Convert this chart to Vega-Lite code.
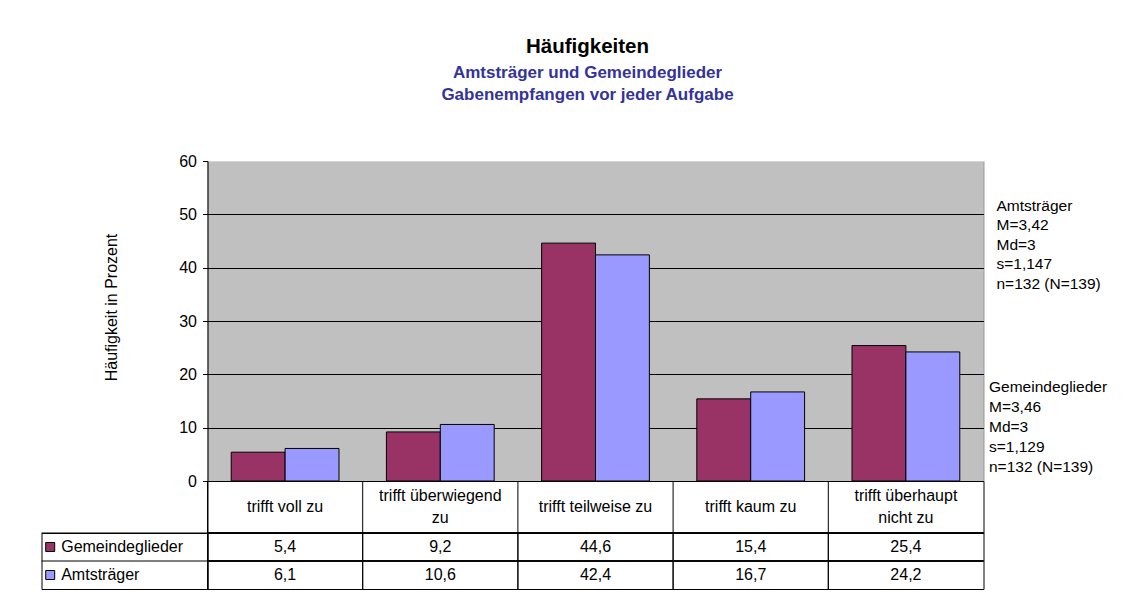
{
  "$schema": "https://vega.github.io/schema/vega-lite/v6.json",
  "background": "white",
  "padding": {"left": 40.5, "top": 36, "right": 5, "bottom": 5},
  "datasets": {
    "freq": [
      {"cat": "trifft voll zu", "series": "Gemeindeglieder", "value": 5.4},
      {"cat": "trifft voll zu", "series": "Amtsträger", "value": 6.1},
      {"cat": "trifft überwiegend zu", "series": "Gemeindeglieder", "value": 9.2},
      {"cat": "trifft überwiegend zu", "series": "Amtsträger", "value": 10.6},
      {"cat": "trifft teilweise zu", "series": "Gemeindeglieder", "value": 44.6},
      {"cat": "trifft teilweise zu", "series": "Amtsträger", "value": 42.4},
      {"cat": "trifft kaum zu", "series": "Gemeindeglieder", "value": 15.4},
      {"cat": "trifft kaum zu", "series": "Amtsträger", "value": 16.7},
      {"cat": "trifft überhaupt nicht zu", "series": "Gemeindeglieder", "value": 25.4},
      {"cat": "trifft überhaupt nicht zu", "series": "Amtsträger", "value": 24.2}
    ],
    "cats": [
      {"cat": "trifft voll zu", "label": "trifft voll zu"},
      {"cat": "trifft überwiegend zu", "label": "trifft überwiegend\nzu"},
      {"cat": "trifft teilweise zu", "label": "trifft teilweise zu"},
      {"cat": "trifft kaum zu", "label": "trifft kaum zu"},
      {"cat": "trifft überhaupt nicht zu", "label": "trifft überhaupt\nnicht zu"}
    ],
    "stats": [
      {"group": "Amtsträger", "text": "Amtsträger\nM=3,42\nMd=3\ns=1,147\nn=132 (N=139)"},
      {"group": "Gemeindeglieder", "text": "Gemeindeglieder\nM=3,46\nMd=3\ns=1,129\nn=132 (N=139)"}
    ]
  },
  "columns": 2,
  "spacing": 0,
  "align": "each",
  "bounds": "flush",
  "concat": [
    {
      "width": 166, "height": 320,
      "data": {"values": []},
      "mark": {"type": "point", "opacity": 0},
      "encoding": {}
    },
    {
      "width": 776, "height": 320,
      "view": {"fill": "#C0C0C0", "stroke": "#999999"},
      "title": {
        "text": "Häufigkeiten",
        "subtitle": ["Amtsträger und Gemeindeglieder", "Gabenempfangen vor jeder Aufgabe"],
        "anchor": "middle",
        "dx": -8,
        "offset": 50,
        "font": "Liberation Sans",
        "fontSize": 20.5,
        "fontWeight": "bold",
        "color": "black",
        "subtitleFont": "Liberation Sans",
        "subtitleFontSize": 17,
        "subtitleFontWeight": "bold",
        "subtitleColor": "#333399",
        "subtitlePadding": 8,
        "subtitleLineHeight": 22
      },
      "layer": [
        {
          "data": {"name": "freq"},
          "mark": {"type": "bar", "stroke": "black", "strokeWidth": 1},
          "encoding": {
            "x": {
              "field": "cat", "type": "nominal",
              "sort": ["trifft voll zu", "trifft überwiegend zu", "trifft teilweise zu", "trifft kaum zu", "trifft überhaupt nicht zu"],
              "scale": {"type": "band", "paddingInner": 0, "paddingOuter": 0},
              "axis": {"labels": false, "ticks": false, "title": null, "domainColor": "black", "grid": false}
            },
            "xOffset": {
              "field": "series", "type": "nominal",
              "sort": ["Gemeindeglieder", "Amtsträger"],
              "scale": {"paddingInner": 0, "paddingOuter": 0.44}
            },
            "y": {
              "field": "value", "type": "quantitative",
              "scale": {"domain": [0, 60], "nice": false},
              "axis": {
                "values": [0, 10, 20, 30, 40, 50, 60],
                "title": "Häufigkeit in Prozent",
                "titleFont": "Liberation Sans",
                "titleFontSize": 16,
                "titleFontWeight": "normal",
                "titleColor": "black",
                "titleX": -96,
                "titleY": 146,
                "titleBaseline": "middle",
                "tickSize": 5,
                "tickColor": "black",
                "labelPadding": 6,
                "labelFont": "Liberation Sans",
                "labelFontSize": 16,
                "labelColor": "black",
                "domainColor": "black",
                "grid": true,
                "gridColor": {"condition": {"test": "datum.value >= 60", "value": "#d4d4d4"}, "value": "black"},
                "gridOpacity": 1
              }
            },
            "color": {
              "field": "series", "type": "nominal",
              "scale": {"domain": ["Gemeindeglieder", "Amtsträger"], "range": ["#993366", "#9999FF"]},
              "legend": {
                "orient": "none",
                "legendX": 0.7,
                "legendY": 372,
                "title": null,
                "symbolType": "square",
                "symbolSize": 81,
                "symbolStrokeColor": "black",
                "symbolStrokeWidth": 1,
                "symbolOpacity": 1,
                "symbolOffset": 0,
                "labelFont": "Liberation Sans",
                "labelFontSize": 16,
                "labelColor": "black",
                "labelOffset": 3,
                "clipHeight": 28,
                "rowPadding": 0,
                "padding": 0,
                "offset": 0
              }
            }
          }
        },
        {
          "data": {"name": "stats"},
          "transform": [{"filter": "datum.group === 'Amtsträger'"}],
          "mark": {"type": "text", "align": "left", "baseline": "middle", "lineBreak": "\n", "lineHeight": 19.5, "dx": 13, "font": "Liberation Sans", "fontSize": 15.5, "color": "black"},
          "encoding": {
            "x": {"datum": "trifft überhaupt nicht zu", "bandPosition": 1},
            "y": {"datum": 51.6},
            "text": {"field": "text", "type": "nominal"}
          }
        },
        {
          "data": {"name": "stats"},
          "transform": [{"filter": "datum.group === 'Gemeindeglieder'"}],
          "mark": {"type": "text", "align": "left", "baseline": "middle", "lineBreak": "\n", "lineHeight": 20, "dx": 5.5, "font": "Liberation Sans", "fontSize": 15.5, "color": "black"},
          "encoding": {
            "x": {"datum": "trifft überhaupt nicht zu", "bandPosition": 1},
            "y": {"datum": 17.7},
            "text": {"field": "text", "type": "nominal"}
          }
        }
      ]
    },
    {
      "width": 166, "height": 52,
      "data": {"values": []},
      "mark": {"type": "point", "opacity": 0},
      "encoding": {}
    },
    {
      "width": 776, "height": 52,
      "view": {"stroke": "black", "strokeWidth": 1},
      "data": {"name": "cats"},
      "layer": [
        {
          "mark": {"type": "rule", "color": "black", "strokeWidth": 1},
          "encoding": {
            "x": {
              "field": "cat", "type": "nominal", "bandPosition": 0,
              "sort": ["trifft voll zu", "trifft überwiegend zu", "trifft teilweise zu", "trifft kaum zu", "trifft überhaupt nicht zu"],
              "scale": {"type": "band", "paddingInner": 0, "paddingOuter": 0},
              "axis": null
            }
          }
        },
        {
          "transform": [{"filter": "indexof(datum.label, '\\n') < 0"}],
          "mark": {"type": "text", "align": "center", "baseline": "middle", "font": "Liberation Sans", "fontSize": 16, "color": "black"},
          "encoding": {
            "x": {
              "field": "cat", "type": "nominal",
              "sort": ["trifft voll zu", "trifft überwiegend zu", "trifft teilweise zu", "trifft kaum zu", "trifft überhaupt nicht zu"],
              "scale": {"type": "band", "paddingInner": 0, "paddingOuter": 0},
              "axis": null
            },
            "text": {"field": "label", "type": "nominal"}
          }
        },
        {
          "transform": [{"filter": "indexof(datum.label, '\\n') >= 0"}],
          "mark": {"type": "text", "align": "center", "baseline": "middle", "lineBreak": "\n", "lineHeight": 21.5, "dy": -10.75, "font": "Liberation Sans", "fontSize": 16, "color": "black"},
          "encoding": {
            "x": {
              "field": "cat", "type": "nominal",
              "sort": ["trifft voll zu", "trifft überwiegend zu", "trifft teilweise zu", "trifft kaum zu", "trifft überhaupt nicht zu"],
              "scale": {"type": "band", "paddingInner": 0, "paddingOuter": 0},
              "axis": null
            },
            "text": {"field": "label", "type": "nominal"}
          }
        }
      ]
    },
    {
      "width": 166, "height": 56,
      "view": {"stroke": "black", "strokeWidth": 1},
      "data": {"name": "freq"},
      "transform": [{"filter": "datum.cat === 'trifft voll zu'"}],
      "mark": {"type": "rule", "color": "black", "strokeWidth": 1},
      "encoding": {
        "y": {
          "field": "series", "type": "nominal", "bandPosition": 0,
          "sort": ["Gemeindeglieder", "Amtsträger"],
          "scale": {"type": "band", "paddingInner": 0, "paddingOuter": 0},
          "axis": null
        }
      }
    },
    {
      "width": 776, "height": 56,
      "view": {"stroke": "black", "strokeWidth": 1},
      "data": {"name": "freq"},
      "layer": [
        {
          "mark": {"type": "rule", "color": "black", "strokeWidth": 1},
          "encoding": {
            "x": {
              "field": "cat", "type": "nominal", "bandPosition": 0,
              "sort": ["trifft voll zu", "trifft überwiegend zu", "trifft teilweise zu", "trifft kaum zu", "trifft überhaupt nicht zu"],
              "scale": {"type": "band", "paddingInner": 0, "paddingOuter": 0},
              "axis": null
            }
          }
        },
        {
          "mark": {"type": "rule", "color": "black", "strokeWidth": 1},
          "encoding": {
            "y": {
              "field": "series", "type": "nominal", "bandPosition": 0,
              "sort": ["Gemeindeglieder", "Amtsträger"],
              "scale": {"type": "band", "paddingInner": 0, "paddingOuter": 0},
              "axis": null
            }
          }
        },
        {
          "mark": {"type": "text", "align": "center", "baseline": "middle", "font": "Liberation Sans", "fontSize": 16, "color": "black"},
          "encoding": {
            "x": {
              "field": "cat", "type": "nominal",
              "sort": ["trifft voll zu", "trifft überwiegend zu", "trifft teilweise zu", "trifft kaum zu", "trifft überhaupt nicht zu"],
              "scale": {"type": "band", "paddingInner": 0, "paddingOuter": 0},
              "axis": null
            },
            "y": {
              "field": "series", "type": "nominal",
              "sort": ["Gemeindeglieder", "Amtsträger"],
              "scale": {"type": "band", "paddingInner": 0, "paddingOuter": 0},
              "axis": null
            },
            "text": {"field": "value", "type": "quantitative", "format": ".1f"}
          }
        }
      ]
    }
  ],
  "config": {
    "font": "Liberation Sans",
    "view": {"stroke": null},
    "locale": {"number": {"decimal": ",", "thousands": ".", "grouping": [3], "currency": ["", " €"]}},
    "axis": {"labelFont": "Liberation Sans", "titleFont": "Liberation Sans"},
    "legend": {"labelFont": "Liberation Sans"}
  }
}
